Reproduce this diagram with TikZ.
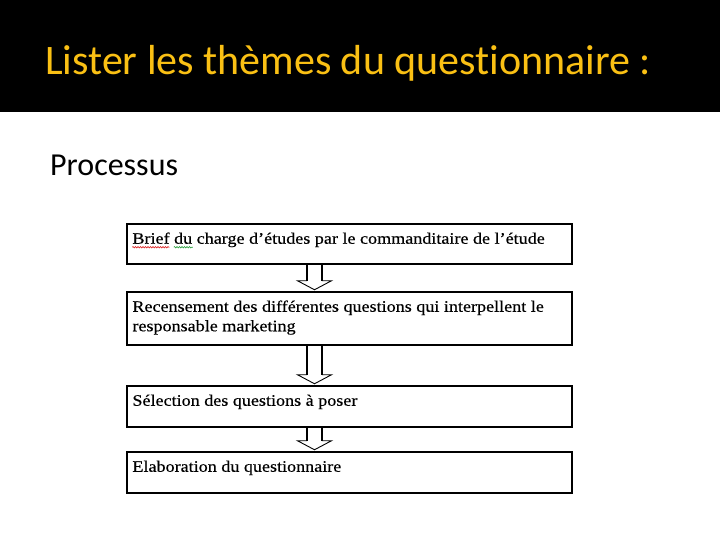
\documentclass[tikz,border=0pt]{standalone}
\usepackage{fontspec}
\setmainfont[Ligatures=NoCommon]{Carlito}
\newfontfamily\boxfont[FakeStretch=1.13,FakeBold=0.4]{Liberation Serif}
\usetikzlibrary{calc,decorations.pathmorphing}
\definecolor{titlegold}{RGB}{250,192,20}
\definecolor{spellred}{RGB}{220,30,30}
\definecolor{spellgreen}{RGB}{40,160,60}
\tikzset{
  boxnode/.style={draw=black, line width=1.5bp, minimum width=445bp, inner sep=0pt, fill=white},
  boxtext/.style={anchor=base west, inner sep=0pt, font=\boxfont\fontsize{16bp}{19.5bp}\selectfont},
  shaftline/.style={line width=1.7bp},
  headline/.style={line width=0.9bp, line join=miter},
  squig/.style={decorate, decoration={snake, amplitude=0.7bp, segment length=2.5bp}, line width=0.6bp}
}
\newcommand{\hollowarrow}[2]{%
  \coordinate (#1-s) at ($(#1.south)+(-35,0)$);
  \coordinate (#2-t) at ($(#2.north)+(-35,-1.5)$);
  \coordinate (#2-b) at ($(#2-t)+(0,-9)$);
  \draw[shaftline] ($(#1-s)+(-7.5,0)$) -- ($(#2-b)+(-7.5,0)$)
                   ($(#1-s)+(7.5,0)$) -- ($(#2-b)+(7.5,0)$);
  \draw[headline] ($(#2-b)+(-7.5,0)$) -- ($(#2-b)+(-17,0)$) -- (#2-t)
                  -- ($(#2-b)+(17,0)$) -- ($(#2-b)+(7.5,0)$);
}
\begin{document}
\begin{tikzpicture}[x=1bp,y=-1bp]
  \useasboundingbox (0,0) rectangle (720,540);
  \fill[white] (0,0) rectangle (720,540);
  \fill[black] (0,0) rectangle (720,112);
  \node[anchor=base west, inner sep=0pt, text=titlegold, font=\fontsize{42bp}{50bp}\selectfont] (title) at (45,75) {Lister les thèmes du questionnaire :};
  \node[anchor=base west, inner sep=0pt, text=black, font=\fontsize{32bp}{38bp}\selectfont] (proc) at (50,176) {Processus};

  \node[boxnode, minimum height=40bp] (b1) at (349.5,244) {};
  \node[boxnode, minimum height=53bp] (b2) at (349.5,318.5) {};
  \node[boxnode, minimum height=41bp] (b3) at (349.5,406.5) {};
  \node[boxnode, minimum height=41bp] (b4) at (349.5,472.5) {};

  \node[boxtext] (t1) at ($(b1.north west)+(6,20.5)$) {Brief du charge d’études par le commanditaire de l’étude};
  \node[boxtext] (t2) at ($(b2.north west)+(6,20.5)$) {\begin{tabular}[t]{@{}l@{}}Recensement des différentes questions qui interpellent le\\ responsable marketing\end{tabular}};
  \node[boxtext] (t3) at ($(b3.north west)+(6,20.5)$) {Sélection des questions à poser};
  \node[boxtext] (t4) at ($(b4.north west)+(6,20.5)$) {Elaboration du questionnaire};

  \draw[squig, spellred] ($(t1.base west)+(0,3.5)$) -- ++(37,0);
  \draw[squig, spellgreen] ($(t1.base west)+(41.5,3.5)$) -- ++(19,0);

  \hollowarrow{b1}{b2}
  \hollowarrow{b2}{b3}
  \hollowarrow{b3}{b4}
\end{tikzpicture}
\end{document}
